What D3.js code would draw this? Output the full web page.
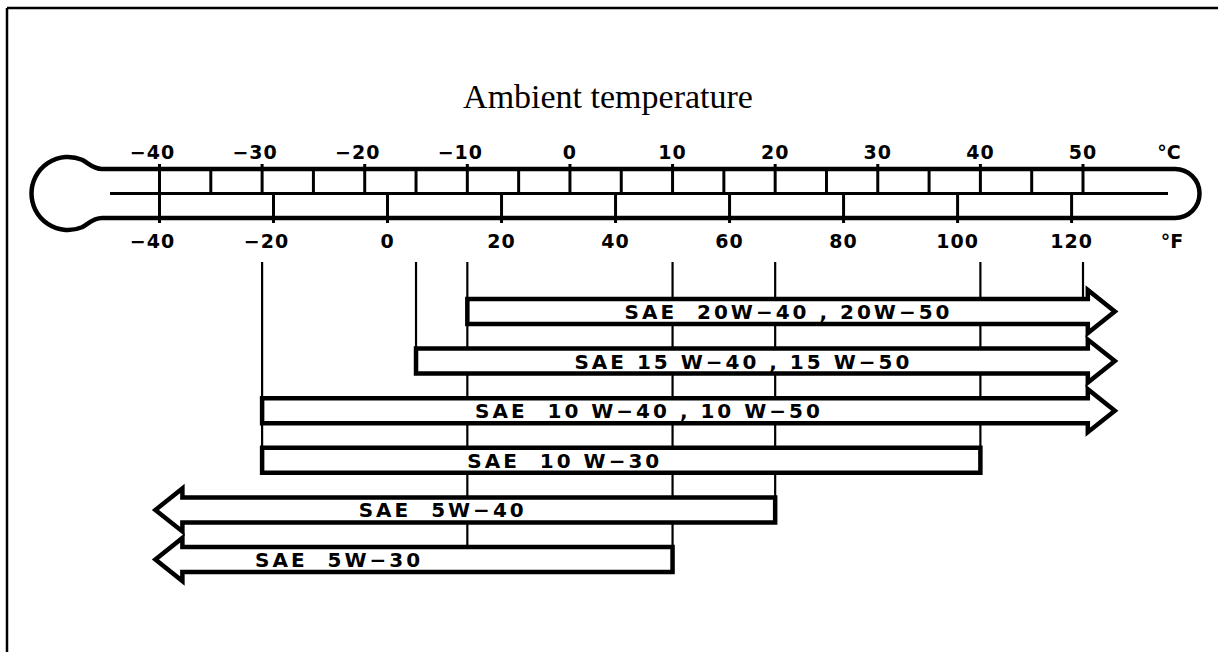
<!DOCTYPE html>
<html>
<head>
<meta charset="utf-8">
<script src="https://cdn.jsdelivr.net/npm/d3@7"></script>
<style>
  html, body { margin: 0; padding: 0; background: #fff; }
  svg { display: block; }
  .bar-label, .tick-label { white-space: pre; }
</style>
</head>
<body>
<svg id="chart" width="1218" height="652"></svg>
<script>
// Thermometer scale labels
const celsiusTicks = [-40, -30, -20, -10, 0, 10, 20, 30, 40, 50];
const fahrenheitTicks = [-40, -20, 0, 20, 40, 60, 80, 100, 120];

// Oil grades and their usable ambient range in °C (null = open-ended)
const grades = [
  "SAE  20W\u221240 , 20W\u221250",
  "SAE 15 W\u221240 , 15 W\u221250",
  "SAE  10 W\u221240 , 10 W\u221250",
  "SAE  10 W\u221230",
  "SAE  5W\u221240",
  "SAE  5W\u221230"
];
const lowC  = [-10, -15, -30, -30, null, null];
const highC = [null, null, null, 40, 20, 10];
const labelAtC = [21.3, 16.9, 7.7, -0.5, -12.4, -22.5];

// Guide lines dropped from the thermometer, and the last row they reach
const guideC = [-30, -15, -10, 10, 20, 40, 50];
const guideLastRow = [3, 1, 5, 5, 4, 3, 0];

const svg = d3.select("#chart");
const ink = "#000";

// frame (left and top edges)
svg.append("line").attr("x1", 7).attr("y1", 8).attr("x2", 1218).attr("y2", 8)
  .attr("stroke", ink).attr("stroke-width", 2.5);
svg.append("line").attr("x1", 7).attr("y1", 8).attr("x2", 7).attr("y2", 652)
  .attr("stroke", ink).attr("stroke-width", 2.5);

// title
svg.append("text")
  .attr("x", 608).attr("y", 108)
  .attr("text-anchor", "middle")
  .style("font-family", "'Liberation Serif', 'Times New Roman', serif")
  .style("font-size", "34px")
  .attr("fill", ink)
  .text("Ambient temperature");

// temperature scale
const x = d3.scaleLinear().domain([-40, 50]).range([159.5, 1083]);
const fToC = f => (f - 32) * 5 / 9;

// thermometer body
const tubeTop = 169, tubeBot = 218, tubeMid = (tubeTop + tubeBot) / 2;
const bulbCx = 68, bulbR = 36.5;
const capR = (tubeBot - tubeTop) / 2;
const tubeEnd = 1175;
const jx = 82;
const jdy = Math.sqrt(bulbR * bulbR - (jx - bulbCx) ** 2);
const body = d3.path();
body.moveTo(102, tubeTop);
body.lineTo(tubeEnd, tubeTop);
body.arc(tubeEnd, tubeMid, capR, -Math.PI / 2, Math.PI / 2, false);
body.lineTo(102, tubeBot);
body.bezierCurveTo(93, tubeBot, 88, tubeMid + jdy - 3, jx, tubeMid + jdy);
const a0 = Math.atan2(jdy, jx - bulbCx);
body.arc(bulbCx, tubeMid, bulbR, a0, -a0, false);
body.bezierCurveTo(88, tubeMid - jdy + 3, 93, tubeTop, 102, tubeTop);
svg.append("path").attr("d", body.toString())
  .attr("fill", "none").attr("stroke", ink).attr("stroke-width", 4.5)
  .attr("stroke-linejoin", "round");

// centre divider
svg.append("line").attr("x1", 110).attr("x2", 1168)
  .attr("y1", tubeMid).attr("y2", tubeMid)
  .attr("stroke", ink).attr("stroke-width", 3);

// °C ticks every 5 degrees in the upper half
const cMinor = d3.range(-40, 51, 5);
svg.append("g").selectAll("line").data(cMinor).join("line")
  .attr("x1", d => x(d)).attr("x2", d => x(d))
  .attr("y1", d => d % 10 === 0 ? tubeTop - 5 : tubeTop)
  .attr("y2", tubeMid)
  .attr("stroke", ink).attr("stroke-width", 3);

// °F ticks every 20 degrees in the lower half
svg.append("g").selectAll("line").data(fahrenheitTicks).join("line")
  .attr("x1", d => x(fToC(d))).attr("x2", d => x(fToC(d)))
  .attr("y1", tubeMid).attr("y2", tubeBot + 5)
  .attr("stroke", ink).attr("stroke-width", 3);

const labelFont = "'DejaVu Sans', 'Liberation Sans', sans-serif";
const fmt = d => d < 0 ? "\u2212" + Math.abs(d) : String(d);

svg.append("g").selectAll("text").data(celsiusTicks).join("text")
  .attr("class", "tick-label")
  .attr("x", d => x(d)).attr("dx", d => d < 0 ? -7 : 0)
  .attr("y", 159)
  .attr("text-anchor", "middle")
  .style("font-family", labelFont).style("font-weight", "bold").style("font-size", "19px")
  .style("letter-spacing", "1px")
  .attr("fill", ink)
  .text(fmt);

svg.append("g").selectAll("text").data(fahrenheitTicks).join("text")
  .attr("class", "tick-label")
  .attr("x", d => x(fToC(d))).attr("dx", d => d < 0 ? -7 : 0)
  .attr("y", 248)
  .attr("text-anchor", "middle")
  .style("font-family", labelFont).style("font-weight", "bold").style("font-size", "19px")
  .style("letter-spacing", "1px")
  .attr("fill", ink)
  .text(fmt);

svg.append("text").attr("x", 1169).attr("y", 159).attr("text-anchor", "middle")
  .style("font-family", labelFont).style("font-weight", "bold").style("font-size", "19px")
  .text("\u00B0C");
svg.append("text").attr("x", 1172).attr("y", 248).attr("text-anchor", "middle")
  .style("font-family", labelFont).style("font-weight", "bold").style("font-size", "19px")
  .text("\u00B0F");

// rows for the grade bars
const y = d3.scaleBand()
  .domain(grades)
  .range([299, 299 + 5 * 49.6 + 25])
  .paddingInner(24.6 / 49.6)
  .paddingOuter(0);

// guide lines (drawn first so the bars mask them)
const guideTop = 262;
svg.append("g").selectAll("line").data(guideC).join("line")
  .attr("x1", d => x(d)).attr("x2", d => x(d))
  .attr("y1", guideTop)
  .attr("y2", (d, i) => y(grades[guideLastRow[i]]))
  .attr("stroke", ink).attr("stroke-width", 2.2);

// grade bars: rectangles with an arrow head on any open end
const openLeft = -40.4, openRight = 53.1;
const headLen = 27, headFlare = 9;
function barPath(i) {
  const top = y(grades[i]), bot = top + y.bandwidth(), mid = (top + bot) / 2;
  const p = d3.path();
  const lo = lowC[i], hi = highC[i];
  const xr = x(hi === null ? openRight : hi);
  const xl = x(lo === null ? openLeft : lo);
  if (lo === null) {
    p.moveTo(xl, mid);
    p.lineTo(xl + headLen, top - headFlare);
    p.lineTo(xl + headLen, top);
  } else {
    p.moveTo(xl, top);
  }
  if (hi === null) {
    p.lineTo(xr - headLen, top);
    p.lineTo(xr - headLen, top - headFlare);
    p.lineTo(xr, mid);
    p.lineTo(xr - headLen, bot + headFlare);
    p.lineTo(xr - headLen, bot);
  } else {
    p.lineTo(xr, top);
    p.lineTo(xr, bot);
  }
  if (lo === null) {
    p.lineTo(xl + headLen, bot);
    p.lineTo(xl + headLen, bot + headFlare);
  } else {
    p.lineTo(xl, bot);
  }
  p.closePath();
  return p.toString();
}

const rows = svg.append("g").selectAll("g").data(grades).join("g");
rows.append("path")
  .attr("d", (d, i) => barPath(i))
  .attr("fill", "#fff").attr("stroke", ink).attr("stroke-width", 4.5)
  .attr("stroke-linejoin", "miter");
rows.append("text")
  .attr("class", "bar-label")
  .attr("x", (d, i) => x(labelAtC[i]))
  .attr("y", d => y(d) + y.bandwidth() / 2)
  .attr("dy", "0.37em")
  .attr("text-anchor", "middle")
  .style("font-family", labelFont).style("font-weight", "bold").style("font-size", "20px")
  .style("letter-spacing", "3px")
  .attr("fill", ink)
  .text(d => d);
</script>
</body>
</html>
